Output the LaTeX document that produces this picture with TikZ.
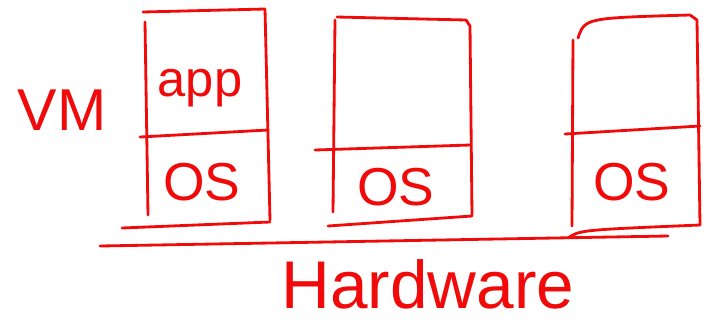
\documentclass[tikz,border=0pt]{standalone}
\usepackage{fontspec}
\setmainfont{Liberation Sans}
\begin{document}
\begin{tikzpicture}[x=0.025cm, y=-0.025cm, line cap=round, line join=round]
  \definecolor{penred}{RGB}{240,10,10}
  \tikzset{pen/.style={penred, line width=2pt},
    hand/.style={penred, inner sep=0pt, font=\fontsize{#1}{#1}\selectfont},
    hand/.default=38pt}
  \useasboundingbox (0,0) rectangle (724,324);
  % first vm
  \draw[pen] (145,22)--(148,215);
  \draw[pen] (143,12)--(265,9)--(270,220);
  \draw[pen] (122,228)--(270,222);
  \draw[pen] (140,137)--(268,130);
  % second vm
  \draw[pen] (335,20)--(333,212);
  \draw[pen] (337,17)--(466,20)--(470,26)--(472,215);
  \draw[pen] (328,226)--(472,216);
  \draw[pen] (315,150)--(470,145);
  % third vm
  \draw[pen] (573,40)--(572,226);
  \draw[pen] (578,38) .. controls (585,18) .. (690,15)--(697,20)--(700,225);
  \draw[pen] (568,238) .. controls (580,230) .. (700,225);
  \draw[pen] (565,134)--(700,126);
  % hardware
  \draw[pen] (100,246)--(668,236);
  \node[hand=42pt] (vm) at (62,110) {VM};
  \node[hand=36pt] (app) at (200,88) {app};
  \node[hand] (os1) at (202,182) {OS};
  \node[hand] (os2) at (396,187) {OS};
  \node[hand] (os3) at (632,182) {OS};
  \node[hand=48pt] (hw) at (428,284) {Hardware};
\end{tikzpicture}
\end{document}
